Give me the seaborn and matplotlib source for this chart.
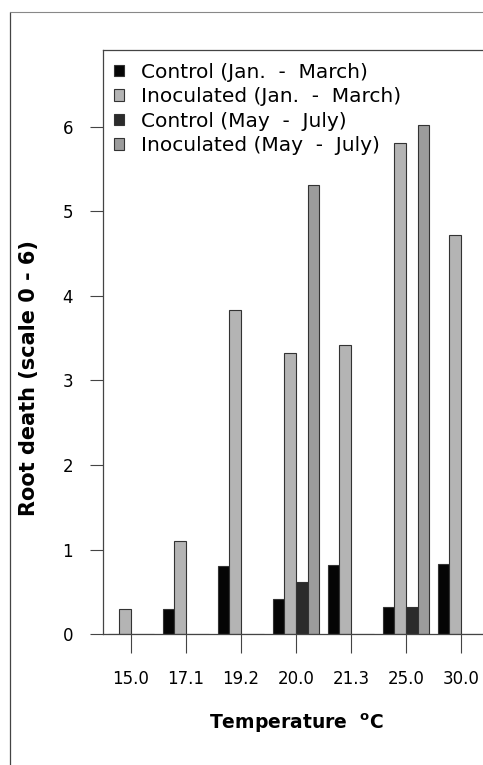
import matplotlib
matplotlib.use("Agg")
import matplotlib.pyplot as plt
import pandas as pd
import seaborn as sns
from matplotlib.lines import Line2D

# data
temps = ["15.0", "17.1", "19.2", "20.0", "21.3", "25.0", "30.0"]
series = ["Control (Jan.  -  March)", "Inoculated (Jan.  -  March)",
          "Control (May  -  July)", "Inoculated (May  -  July)"]
control_jan = [0.0, 0.30, 0.80, 0.41, 0.82, 0.32, 0.83]
inoc_jan = [0.30, 1.10, 3.83, 3.33, 3.42, 5.81, 4.72]
control_may = [0.0, 0.0, 0.0, 0.62, 0.0, 0.32, 0.0]
inoc_may = [0.0, 0.0, 0.0, 5.31, 0.0, 6.02, 0.0]
colors = ["#050505", "#b4b4b4", "#2b2b2b", "#9c9c9c"]

df = pd.DataFrame({
    "temp": temps * 4,
    "series": [s for s in series for _ in temps],
    "value": control_jan + inoc_jan + control_may + inoc_may,
})

sns.set_theme(style="white")
plt.rcParams["font.family"] = ["DejaVu Sans"]
plt.rcParams.update({"text.color": "black", "axes.labelcolor": "black"})

fig = plt.figure(figsize=(4.83, 7.65), dpi=100)
ax = fig.add_axes([0.2133, 0.1712, 0.7867, 0.7634])

sns.barplot(data=df, x="temp", y="value", hue="series", order=temps,
            hue_order=series, palette=colors, width=0.84, ax=ax,
            edgecolor="#333333", linewidth=0.8, saturation=1, errorbar=None)

ax.set_xlim(-0.509, 6.4)
ax.set_ylim(0, 6.91)
ax.set_yticks(range(7))
ax.tick_params(axis="x", direction="out", length=14, width=0.8,
               pad=12, labelsize=12, bottom=True, color="#444444",
               labelcolor="black")
ax.tick_params(axis="y", direction="out", length=9.5, width=0.8,
               pad=12, labelsize=12, left=True, color="#444444",
               labelcolor="black")

for side in ["left", "bottom", "top"]:
    ax.spines[side].set_color("#444444")
    ax.spines[side].set_linewidth(0.9)
ax.spines["right"].set_visible(False)

ax.set_xlabel(r"Temperature  $^{\mathbf{o}}$C", fontsize=13.5,
              fontweight="bold")
ax.xaxis.set_label_coords(0.51, -0.132)
ax.set_ylabel("Root death (scale 0 - 6)", fontsize=15, fontweight="bold")
ax.yaxis.set_label_coords(-0.168, 0.438)

handles, labels = ax.get_legend_handles_labels()
ax.legend(handles, labels, loc="upper left", bbox_to_anchor=(0.03, 0.978),
          frameon=False, fontsize=14.5, handlelength=0.5, handleheight=0.5,
          handletextpad=0.8, labelspacing=0.27, borderpad=0, borderaxespad=0)

# frame of the scanned page
fig.add_artist(Line2D([10 / 483, 10 / 483], [0, 1 - 12 / 765],
                      transform=fig.transFigure, color="#444444", lw=0.9))
fig.add_artist(Line2D([10 / 483, 1], [1 - 12 / 765, 1 - 12 / 765],
                      transform=fig.transFigure, color="#888888", lw=0.8))

fig.savefig("out.png", dpi=100)
